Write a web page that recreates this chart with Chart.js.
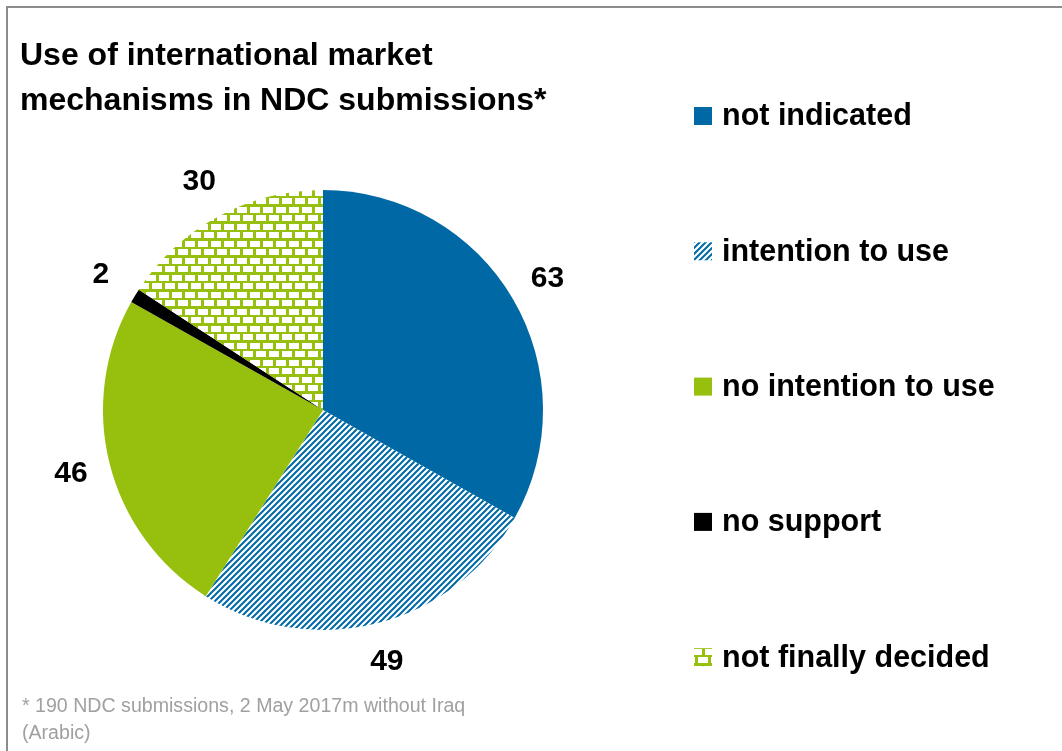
<!DOCTYPE html>
<html lang="en">
<head>
<meta charset="UTF-8">
<title>Use of international market mechanisms in NDC submissions</title>
<script src="https://cdn.jsdelivr.net/npm/chart.js"></script>
<style>
  body { margin: 0; background: #fff; }
  .wrap { position: relative; width: 1062px; height: 751px; overflow: hidden; font-family: "Liberation Sans", Arial, sans-serif; }
  .frame { position: absolute; left: 6px; top: 6px; width: 1100px; height: 800px; border-left: 2px solid #8c8c8c; border-top: 2px solid #8c8c8c; }
  h1 { position: absolute; left: 20px; top: 32px; margin: 0; font-size: 32px; line-height: 45px; font-weight: bold; color: #000; }
  .note { position: absolute; left: 22px; top: 692px; font-size: 19.6px; line-height: 27px; color: #a0a0a0; }
  canvas { position: absolute; left: 0; top: 0; }
</style>
</head>
<body>
<div class="wrap">
  <div class="frame"></div>
  <canvas id="pie" width="1062" height="751"></canvas>
  <h1>Use of international market<br>mechanisms in NDC submissions*</h1>
  <div class="note">* 190 NDC submissions, 2 May 2017m without Iraq<br>(Arabic)</div>
</div>

<script>
const categories = ['not indicated', 'intention to use', 'no intention to use', 'no support', 'not finally decided'];
const counts = [63, 49, 46, 2, 30];

const BLUE = '#0069a5';
const GREEN = '#97bf0d';

const ctx = document.getElementById('pie').getContext('2d');

// thin "/" hatching on white
function stripePattern(color) {
  const c = document.createElement('canvas');
  c.width = 6; c.height = 6;
  const g = c.getContext('2d');
  g.fillStyle = '#fff';
  g.fillRect(0, 0, 6, 6);
  g.strokeStyle = color;
  g.lineWidth = 2;
  g.beginPath();
  g.moveTo(-1, 7); g.lineTo(7, -1);
  g.moveTo(-1, 1); g.lineTo(1, -1);
  g.moveTo(5, 7); g.lineTo(7, 5);
  g.stroke();
  return ctx.createPattern(c, 'repeat');
}

// white bricks with coloured mortar
function brickPattern(color) {
  const c = document.createElement('canvas');
  c.width = 13; c.height = 17;
  const g = c.getContext('2d');
  g.fillStyle = color;
  g.fillRect(0, 0, 13, 17);
  g.fillStyle = '#fff';
  g.fillRect(3, 3, 10, 6);
  g.fillRect(9, 11, 4, 6);
  g.fillRect(0, 11, 6, 6);
  return ctx.createPattern(c, 'repeat');
}

const fills = [BLUE, stripePattern(BLUE), GREEN, '#000', brickPattern(GREEN)];

// value labels just outside each slice
const outerLabels = {
  id: 'outerLabels',
  afterDatasetsDraw(chart) {
    const c = chart.ctx;
    const meta = chart.getDatasetMeta(0);
    c.save();
    c.font = 'bold 30px "Liberation Sans", Arial, sans-serif';
    c.fillStyle = '#000';
    c.textAlign = 'center';
    c.textBaseline = 'middle';
    meta.data.forEach((arc, i) => {
      const p = arc.getProps(['x', 'y', 'startAngle', 'endAngle', 'outerRadius'], true);
      const mid = (p.startAngle + p.endAngle) / 2;
      const r = p.outerRadius + 40;
      c.fillText(String(chart.data.datasets[0].data[i]), p.x + Math.cos(mid) * r, p.y + Math.sin(mid) * r);
    });
    c.restore();
  }
};

// legend column on the right
const sideLegend = {
  id: 'sideLegend',
  afterDraw(chart) {
    const c = chart.ctx;
    const x = 694, y0 = 116, step = 135.3, box = 18;
    c.save();
    c.font = 'bold 30.5px "Liberation Sans", Arial, sans-serif';
    c.textBaseline = 'middle';
    chart.data.labels.forEach((label, i) => {
      const y = y0 + i * step;
      c.fillStyle = chart.data.datasets[0].backgroundColor[i];
      c.fillRect(x, y - box / 2, box, box);
      c.fillStyle = '#000';
      c.fillText(label, x + 28, y + 1);
    });
    c.restore();
  }
};

new Chart(ctx, {
  type: 'pie',
  data: {
    labels: categories,
    datasets: [{
      data: counts,
      backgroundColor: fills,
      borderWidth: 0
    }]
  },
  options: {
    responsive: false,
    animation: false,
    layout: { padding: { left: 103, top: 190, right: 519, bottom: 121 } },
    plugins: {
      legend: { display: false },
      tooltip: { enabled: false }
    }
  },
  plugins: [outerLabels, sideLegend]
});
</script>
</body>
</html>
